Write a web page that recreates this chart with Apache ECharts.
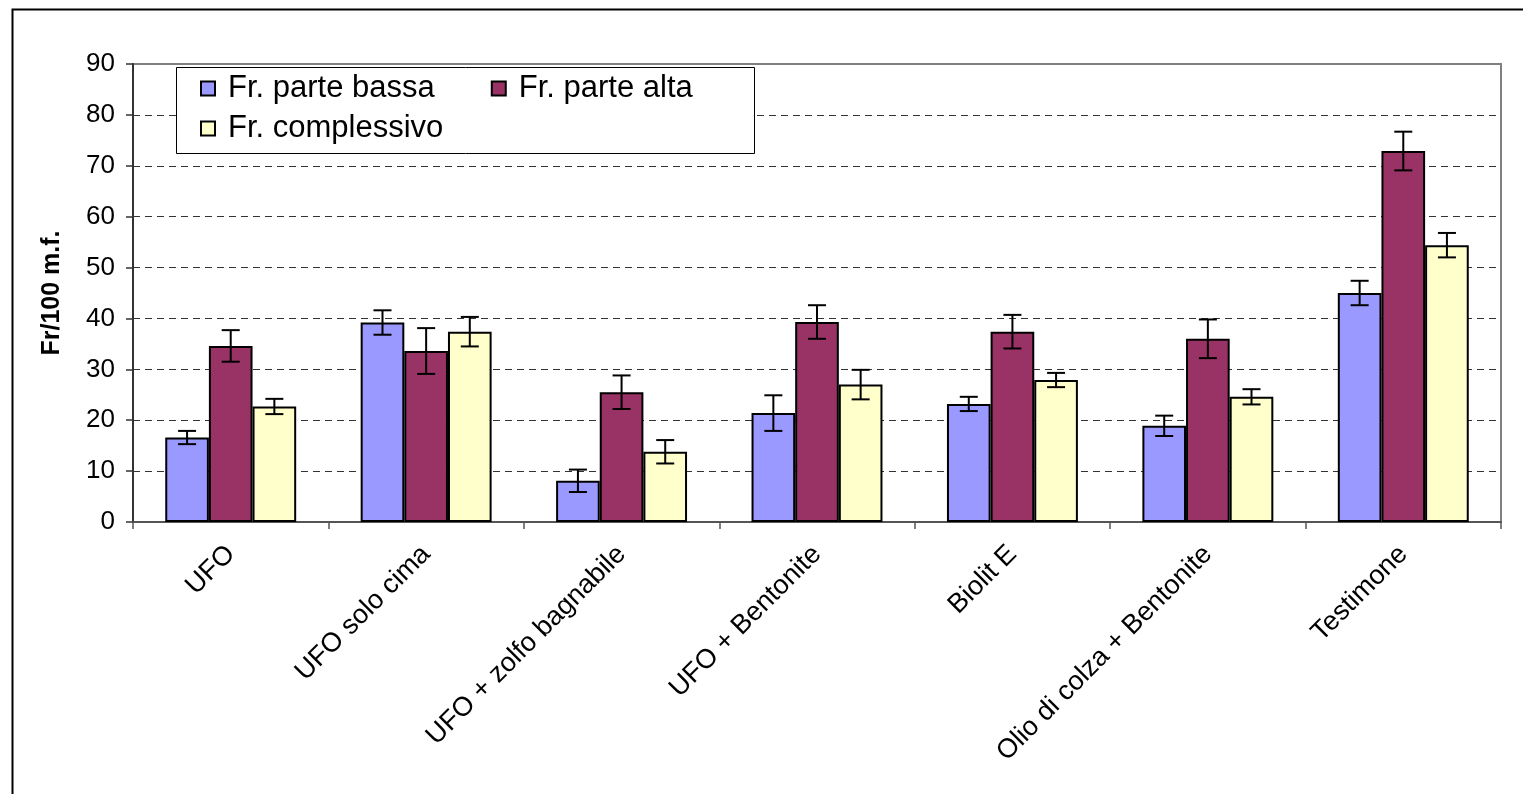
<!DOCTYPE html>
<html>
<head>
<meta charset="utf-8">
<script src="https://cdn.jsdelivr.net/npm/echarts@6/dist/echarts.min.js"></script>
<style>
html,body{margin:0;padding:0;background:#fff;}
#chart{width:1523px;height:794px;}
</style>
</head>
<body>
<div id="chart"></div>
<script>
const categories = ['UFO', 'UFO solo cima', 'UFO + zolfo bagnabile', 'UFO + Bentonite', 'Biolit E', 'Olio di colza + Bentonite', 'Testimone'];
const seriesNames = ['Fr. parte bassa', 'Fr. parte alta', 'Fr. complessivo'];
const bassa = [16.6, 39.2, 8.1, 21.4, 23.2, 18.9, 45.0];
const bassaErr = [1.3, 2.4, 2.2, 3.5, 1.4, 2.0, 2.4];
const alta = [34.6, 33.6, 25.5, 39.3, 37.4, 36.0, 72.9];
const altaErr = [3.1, 4.5, 3.3, 3.3, 3.3, 3.8, 3.8];
const compl = [22.7, 37.4, 13.8, 27.0, 27.9, 24.6, 54.4];
const complErr = [1.5, 2.9, 2.3, 2.9, 1.4, 1.5, 2.4];
const yTicks = {min: 0, max: 90, interval: 10};

const colors = ['#9999FF', '#993366', '#FFFFCC'];
const values = [bassa, alta, compl];
const errs = [bassaErr, altaErr, complErr];
const GAP = 0.33;

const chart = echarts.init(document.getElementById('chart'));
const font = 'Liberation Sans, Arial, sans-serif';

function errRenderer(k) {
  return function (params, api) {
    const xi = api.value(0), v = api.value(1), e = api.value(2);
    const band = api.size([1, 0])[0];
    const bw = band * (1 - GAP) / 3;
    const c = api.coord([xi, v]);
    const cx = c[0] + (k - 1) * bw;
    const top = api.coord([xi, v + e])[1];
    const bot = api.coord([xi, v - e])[1];
    const hw = 9;
    const st = {stroke: '#000', lineWidth: 2};
    return {
      type: 'group',
      children: [
        {type: 'line', shape: {x1: cx, y1: top, x2: cx, y2: bot}, style: st},
        {type: 'line', shape: {x1: cx - hw, y1: top, x2: cx + hw, y2: top}, style: st},
        {type: 'line', shape: {x1: cx - hw, y1: bot, x2: cx + hw, y2: bot}, style: st}
      ]
    };
  };
}

const series = [];
for (let k = 0; k < 3; k++) {
  series.push({
    name: seriesNames[k],
    type: 'bar',
    data: values[k],
    barCategoryGap: (GAP * 100) + '%',
    barGap: '0%',
    itemStyle: {color: colors[k], borderColor: '#000', borderWidth: 2},
    z: 2
  });
}
for (let k = 0; k < 3; k++) {
  series.push({
    type: 'custom',
    name: 'err' + k,
    renderItem: errRenderer(k),
    data: values[k].map((v, i) => [i, v, errs[k][i]]),
    z: 5,
    silent: true
  });
}

const option = {
  animation: false,
  backgroundColor: '#fff',
  textStyle: {fontFamily: font},
  grid: {left: 133, top: 64, right: 22, bottom: 272, show: true, borderColor: '#808080', borderWidth: 2, backgroundColor: 'transparent'},
  graphic: [
    {type: 'rect', left: 10, top: 7, shape: {width: 1540, height: 820}, style: {fill: 'none', stroke: '#000', lineWidth: 2}, z: 0, silent: true},
    {type: 'rect', left: 176, top: 67, shape: {width: 578, height: 86}, style: {fill: '#fff', stroke: '#000', lineWidth: 1}, z: 10, silent: true}
  ],
  legend: [
    {
      data: [seriesNames[0], seriesNames[1]],
      left: 200, top: 73, orient: 'horizontal', itemGap: 56, padding: 0,
      itemWidth: 14, itemHeight: 14, icon: 'rect', z: 11,
      selectedMode: false,
      textStyle: {fontSize: 31, color: '#000', fontFamily: font, padding: [0, 0, 0, 8]}
    },
    {
      data: [seriesNames[2]],
      left: 200, top: 113, orient: 'horizontal', padding: 0,
      itemWidth: 14, itemHeight: 14, icon: 'rect', z: 11,
      selectedMode: false,
      textStyle: {fontSize: 31, color: '#000', fontFamily: font, padding: [0, 0, 0, 8]}
    }
  ],
  xAxis: {
    type: 'category',
    data: categories,
    axisLine: {show: true, lineStyle: {color: '#555', width: 2}},
    axisTick: {show: true, inside: false, length: 7, lineStyle: {color: '#555', width: 1.5}},
    axisLabel: {interval: 0, rotate: 45, fontSize: 27, color: '#000', margin: 28, fontFamily: font},
    splitLine: {show: false}
  },
  yAxis: {
    type: 'value',
    min: yTicks.min, max: yTicks.max, interval: yTicks.interval,
    name: 'Fr/100 m.f.',
    nameLocation: 'middle',
    nameGap: 68,
    nameRotate: 90,
    nameTextStyle: {fontSize: 25, fontWeight: 'bold', color: '#000', fontFamily: font},
    axisLine: {show: true, lineStyle: {color: '#333', width: 2}},
    axisTick: {show: true, inside: false, length: 7, lineStyle: {color: '#333', width: 1.5}},
    axisLabel: {fontSize: 26, color: '#000', margin: 18, fontFamily: font},
    splitLine: {show: true, showMinLine: false, showMaxLine: false, lineStyle: {color: '#333', type: [7, 5], width: 1.2}}
  },
  series: series
};
chart.setOption(option);
</script>
</body>
</html>
